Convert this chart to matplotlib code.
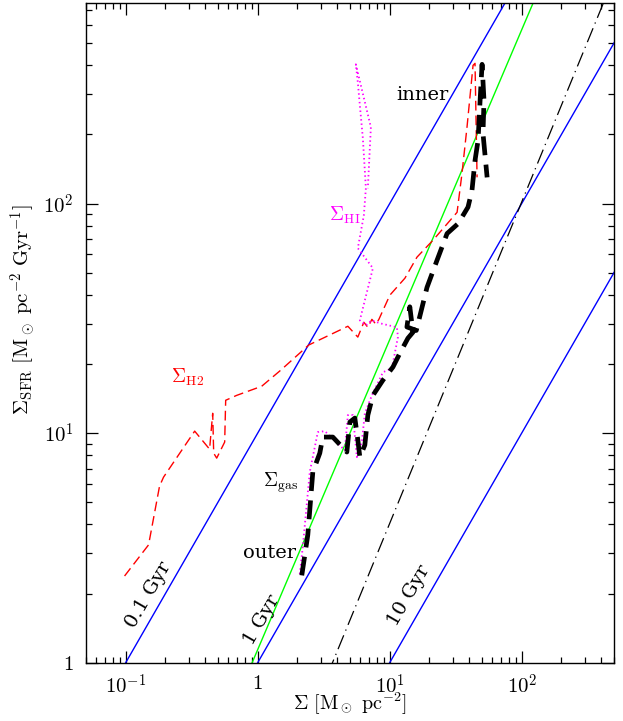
import matplotlib.pyplot as plt
import numpy as np
from matplotlib.ticker import FixedLocator, FixedFormatter, LogLocator, NullFormatter

plt.rcParams['mathtext.fontset'] = 'cm'
plt.rcParams['font.family'] = 'DejaVu Serif'

# gas depletion times (Gyr) for the blue lines  Sigma_SFR = Sigma / tau
tau_gyr = [0.1, 1, 10]
tau_labels = ['0.1 Gyr', '1 Gyr', '10 Gyr']

# power-law relations: green line and black dash-dot line  (Sigma_SFR = a * Sigma^n)
green_a, green_n = 1.14, 1.35
ks_a, ks_n = 0.161, 1.4

# Sigma_H2 profile, outer -> inner
h2_sigma = [0.098, 0.149, 0.1805, 0.1935, 0.333, 0.432, 0.456, 0.464, 0.489, 0.562, 0.572,
            0.693, 1.072, 1.495, 2.437, 4.82, 5.735, 6.37, 6.83, 7.33, 7.86, 8.28,
            10.03, 13.04, 16.09, 21.27, 32.4, 35.3, 38.5, 42.8, 44.3, 45.9]
h2_sfr = [2.385, 3.26, 5.88, 6.43, 10.2, 8.51, 12.2, 8.18, 7.78, 9.14, 13.9,
          14.6, 16.0, 18.8, 24.2, 29.2, 26.2, 30.4, 28.9, 31.3, 29.8, 31.3,
          39.9, 47.3, 58.4, 69.2, 91.6, 135.5, 214.8, 400, 408, 130.1]

# Sigma_HI profile, outer -> inner
hi_sigma = [2.083, 2.195, 2.48, 2.853, 3.224, 4.57, 4.82, 5.26, 5.64, 6.15, 6.48, 7.33,
            8.88, 10.4, 11.54, 11.34, 8.42, 7.33, 6.6, 5.94, 7.46, 5.735, 6.37, 6.6,
            6.26, 5.94, 5.735, 5.54, 7.2, 6.83]
hi_sfr = [2.433, 3.19, 6.77, 10.1, 10.2, 8.43, 11.98, 11.98, 7.86, 9.14, 12.2, 14.6,
          18.4, 19.2, 26.2, 28.9, 30.1, 31.0, 29.5, 31.0, 52.3, 63.9, 88.9, 116.6,
          192.5, 268, 337, 404, 215, 116.6]

# total gas profile, outer -> inner
gas_sigma = [2.157, 2.274, 2.396, 2.615, 2.954, 3.113, 3.707, 4.735, 4.99, 5.445, 5.735,
             5.94, 6.48, 6.83, 7.46, 8.88, 10.58, 11.95, 13.74, 15.0, 14.2, 13.5, 15.9,
             19.16, 22.8, 27.2, 33.0, 39.2, 42.0, 44.3, 46.7, 48.4, 50.1, 51.8, 50.9, 54.7]
gas_sfr = [2.40, 2.94, 3.60, 6.77, 8.18, 9.61, 9.61, 8.27, 11.17, 11.63, 9.32,
           7.86, 8.87, 11.98, 14.6, 17.0, 19.4, 22.3, 25.9, 27.5, 35.5, 29.0, 28.0,
           43.1, 56.5, 74.0, 81.8, 96.5, 114, 154, 188.6, 281.6, 404, 281.6, 202, 130]

x_ticks = [0.1, 1, 10, 100]
x_ticklabels = [r'$10^{-1}$', r'$1$', r'$10^{1}$', r'$10^{2}$']
y_ticks = [1, 10, 100]
y_ticklabels = [r'$1$', r'$10^{1}$', r'$10^{2}$']

fig = plt.figure(figsize=(6.23, 7.21), dpi=100)
ax = fig.add_axes([0.138, 0.0809, 0.8475, 0.9145])
ax.set_xscale('log')
ax.set_yscale('log')
ax.set_xlim(0.05, 500)
ax.set_ylim(1, 745)

xs = np.array([0.01, 1000.0])
for tau in tau_gyr:
    ax.plot(xs, xs / tau, color='#0000ff', lw=1.0)
ax.plot(xs, green_a * xs ** green_n, color='#00ff00', lw=1.0)
ax.plot(xs, ks_a * xs ** ks_n, color='black', lw=0.9, linestyle=(0, (12, 4, 1, 4)))

ax.plot(h2_sigma, h2_sfr, color='#ff0000', lw=1.0, linestyle=(0, (7, 3.6)))
ax.plot(hi_sigma, hi_sfr, color='#ff00ff', lw=1.3, linestyle=(0, (0.8, 1.6)))
ax.plot(gas_sigma, gas_sfr, color='black', lw=3.4, linestyle=(0, (4.0, 2.0)))

# labels
fs = 14
ax.text(0.638, 0.861, 'inner', transform=ax.transAxes, fontsize=fs, ha='center', va='center')
ax.text(0.3485, 0.166, 'outer', transform=ax.transAxes, fontsize=fs, ha='center', va='center')
ax.text(0.369, 0.2725, r'$\Sigma_{\rm gas}$', transform=ax.transAxes, fontsize=fs, ha='center', va='center')
ax.text(0.193, 0.432, r'$\Sigma_{\rm H2}$', transform=ax.transAxes, fontsize=fs, ha='center', va='center',
        color='#ff0000')
ax.text(0.4905, 0.679, r'$\Sigma_{\rm HI}$', transform=ax.transAxes, fontsize=fs, ha='center', va='center',
        color='#ff00ff')
tau_pos = [(0.119, 0.1027), (0.333, 0.0648), (0.612, 0.101)]
for (fx, fy), lab in zip(tau_pos, tau_labels):
    ax.text(fx, fy, lab, transform=ax.transAxes, fontsize=fs, ha='center', va='center',
            rotation=60, rotation_mode='anchor')

ax.xaxis.set_major_locator(FixedLocator(x_ticks))
ax.xaxis.set_major_formatter(FixedFormatter(x_ticklabels))
ax.yaxis.set_major_locator(FixedLocator(y_ticks))
ax.yaxis.set_major_formatter(FixedFormatter(y_ticklabels))
ax.xaxis.set_minor_locator(LogLocator(base=10, subs=np.arange(2, 10), numticks=20))
ax.yaxis.set_minor_locator(LogLocator(base=10, subs=np.arange(2, 10), numticks=20))
ax.xaxis.set_minor_formatter(NullFormatter())
ax.yaxis.set_minor_formatter(NullFormatter())
ax.tick_params(which='both', direction='in', top=True, right=True, labelsize=15)
ax.tick_params(which='major', length=8.5, width=0.9)
ax.tick_params(which='minor', length=4, width=0.9)
ax.tick_params(axis='x', which='major', pad=8)
ax.tick_params(axis='y', which='major', pad=9)
for s in ax.spines.values():
    s.set_linewidth(1.0)

ax.set_xlabel(r'$\Sigma\ [{\rm M}_\odot\ {\rm pc}^{-2}]$', fontsize=14.5)
ax.set_ylabel(r'$\Sigma_{\rm SFR}\ [{\rm M}_\odot\ {\rm pc}^{-2}\ {\rm Gyr}^{-1}]$', fontsize=15)
ax.xaxis.set_label_coords(0.5, -0.042)
ax.yaxis.set_label_coords(-0.09, 0.536)

plt.savefig('out.png', dpi=100)
